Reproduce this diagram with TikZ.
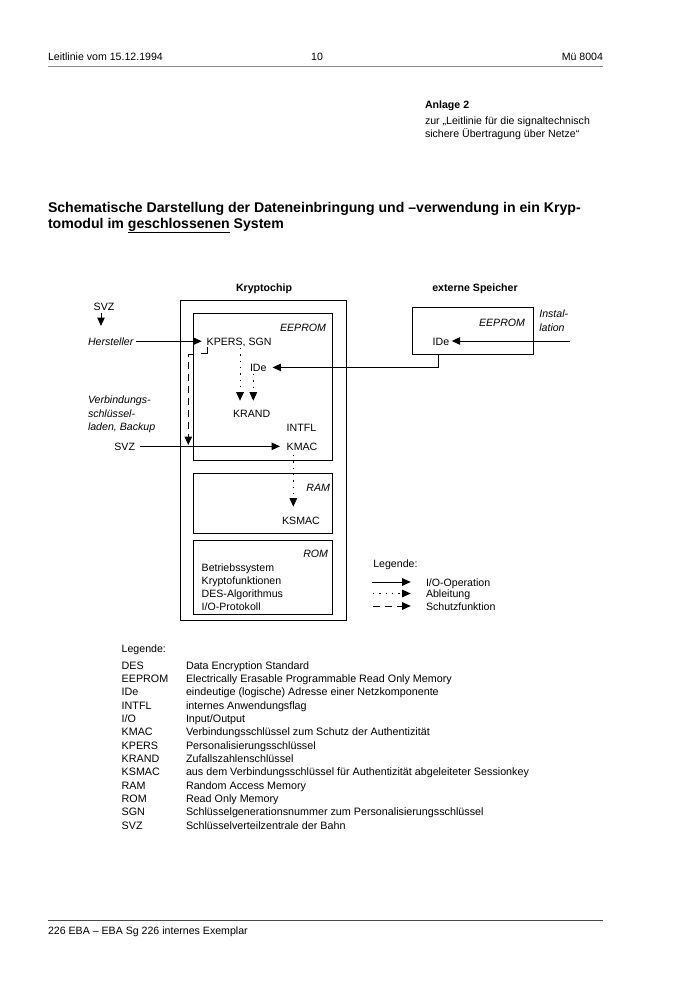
\documentclass[tikz,border=0pt]{standalone}
\usepackage{fontspec}
\setmainfont{Liberation Sans}
\usetikzlibrary{arrows.meta}
\newcommand{\fsn}{\fontsize{10.6}{12.7}\selectfont}
\newcommand{\fsl}{\fontsize{10.75}{12.9}\selectfont}
\newcommand{\fsttl}{\fontsize{14.1}{17}\selectfont\bfseries}
\begin{document}
\begin{tikzpicture}[x=1pt,y=-1pt,
  every node/.style={inner sep=0pt, outer sep=0pt, font=\fsn},
  txt/.style={anchor=base west},
  rtxt/.style={anchor=base east},
  ctxt/.style={anchor=base},
  it/.style={font=\fsn\itshape},
  bf/.style={font=\fsn\bfseries},
  box/.style={draw, line width=1pt, anchor=north west},
  io/.style={line width=1pt, -{Triangle[length=8.5pt,width=7.5pt]}},
  derive/.style={io, dash pattern=on 1.3pt off 5pt},
  protect/.style={io, dash pattern=on 7pt off 5pt},
  ]
\fill[white] (0,0) rectangle (700,990);
\useasboundingbox (0,0) rectangle (700,990);

% header
\node[txt] (hl) at (48,60) {Leitlinie vom 15.12.1994};
\node[ctxt] (hm) at (317,60) {10};
\node[rtxt] (hr) at (603,60) {Mü 8004};
\draw[black!45, line width=1.5pt] (48,66.5) -- (603,66.5);

% Anlage
\node[txt,bf] (anl) at (425,108) {Anlage 2};
\node[txt] (anl1) at (425,124.5) {zur „Leitlinie für die signaltechnisch};
\node[txt] (anl2) at (425,137) {sichere Übertragung über Netze“};

% title
\node[txt,font=\fsttl] (t1) at (48,212) {Schematische Darstellung der Dateneinbringung und –verwendung in ein Kryp-};
\node[txt,font=\fsttl] (t2) at (48,228) {tomodul im \underline{geschlossenen} System};

% boxes
\node[ctxt,bf] (kc) at (264,291) {Kryptochip};
\node[ctxt,bf] (es) at (475,291) {externe Speicher};
\node[box, minimum width=166pt, minimum height=319.3pt] (chip) at (180,300.7) {};
\node[box, minimum width=139.4pt, minimum height=146.7pt] (eep) at (193.3,313.3) {};
\node[box, minimum width=139.4pt, minimum height=60pt] (ram) at (193.3,473) {};
\node[box, minimum width=139.4pt, minimum height=74pt] (rom) at (193.3,540) {};
\node[box, minimum width=121pt, minimum height=47pt] (ext) at (412,307) {};

% chip texts
\node[rtxt,it] (ee1) at (326,331) {EEPROM};
\node[txt] (kpers) at (206.7,345) {KPERS, SGN};
\node[txt] (ide) at (250,371) {IDe};
\node[ctxt] (krand) at (251.7,417) {KRAND};
\node[txt] (intfl) at (286.7,431) {INTFL};
\node[txt] (kmac) at (286.7,450) {KMAC};
\node[rtxt,it] (ramlbl) at (330,491) {RAM};
\node[ctxt] (ksmac) at (301,524) {KSMAC};
\node[rtxt,it] (romlbl) at (328,557) {ROM};
\node[txt] (r1) at (201.7,571) {Betriebssystem};
\node[txt] (r2) at (201.7,584) {Kryptofunktionen};
\node[txt] (r3) at (201.7,597) {DES-Algorithmus};
\node[txt] (r4) at (201.7,610) {I/O-Protokoll};

% left texts
\node[ctxt] (svz1) at (104,310) {SVZ};
\node[txt,it] (herst) at (88,345) {Hersteller};
\node[txt,it] (vb1) at (88,403) {Verbindungs-};
\node[txt,it] (vb2) at (88,417) {schlüssel-};
\node[txt,it] (vb3) at (88,430) {laden, Backup};
\node[rtxt] (svz2) at (135,450) {SVZ};

% external
\node[rtxt,it] (ee2) at (525,326) {EEPROM};
\node[txt] (eide) at (432.7,345) {IDe};
\node[txt,it] (inst1) at (539.3,317) {Instal-};
\node[txt,it] (inst2) at (539.3,331) {lation};

% coordinates
\coordinate (svzs) at (101,313);
\coordinate (svze) at (101,326);
\coordinate (instsrc) at (570,341);
\coordinate (pstart) at (192.7,354);
\coordinate (pend) at (188.3,445);
\coordinate (kp1) at (240,348);
\coordinate (kp2) at (240,400.7);
\coordinate (id1) at (253.3,374);
\coordinate (id2) at (253.3,400.7);
\coordinate (km1) at (293.3,455);
\coordinate (km2) at (293.3,506.7);

% connectors
\draw[io] (svzs) -- (svze);
\draw[io] ([xshift=3pt]herst.east) -- ([xshift=-5pt]kpers.west |- herst.east);
\draw[io] ([xshift=5pt]svz2.east) -- ([xshift=-6.7pt]kmac.west);
\draw[protect] (pstart) -| (pend);
\draw[line width=1pt] (207.3,347) -- (207.3,353.3) -- (201,353.3);
\draw[derive] (kp1) -- (kp2);
\draw[derive] (id1) -- (id2);
\draw[derive] (km1) -- (km2);
\draw[io] ([xshift=-2pt]eide.south |- ext.south) |- ([xshift=6pt]ide.east);
\draw[io] (instsrc) -- ([xshift=2.5pt]eide.east |- instsrc);

% right legend
\node[txt] (leg) at (373.3,567) {Legende:};
\coordinate (l1a) at (372,582);   \coordinate (l1b) at (410.7,582);
\coordinate (l2a) at (373,593.5); \coordinate (l2b) at (410.7,593.5);
\coordinate (l3a) at (373,606);   \coordinate (l3b) at (410.7,606);
\draw[io] (l1a) -- (l1b);
\draw[derive] (l2a) -- (l2b);
\draw[protect] (l3a) -- (l3b);
\node[txt] (lt1) at (426,586) {I/O-Operation};
\node[txt] (lt2) at (426,597.5) {Ableitung};
\node[txt] (lt3) at (426,610) {Schutzfunktion};

% bottom legend
\node[txt] (bleg) at (121.7,652) {Legende:};
\foreach \a/\d [count=\i from 0] in {
  DES/Data Encryption Standard,
  EEPROM/Electrically Erasable Programmable Read Only Memory,
  IDe/eindeutige (logische) Adresse einer Netzkomponente,
  INTFL/internes Anwendungsflag,
  {I/O}/{Input/Output},
  KMAC/Verbindungsschlüssel zum Schutz der Authentizität,
  KPERS/Personalisierungsschlüssel,
  KRAND/Zufallszahlenschlüssel,
  KSMAC/aus dem Verbindungsschlüssel für Authentizität abgeleiteter Sessionkey,
  RAM/Random Access Memory,
  ROM/Read Only Memory,
  SGN/Schlüsselgenerationsnummer zum Personalisierungsschlüssel,
  SVZ/Schlüsselverteilzentrale der Bahn}{
  \node[txt,font=\fsl] (ab\i) at (121.7,{669+13.35*\i}) {\a};
  \node[txt,font=\fsl] (de\i) at (186,{669+13.35*\i}) {\d};
}

% footer
\draw[black!70, line width=0.8pt] (48,920.5) -- (603,920.5);
\node[txt] (foot) at (48,934.5) {226 EBA – EBA Sg 226 internes Exemplar};
\end{tikzpicture}
\end{document}
